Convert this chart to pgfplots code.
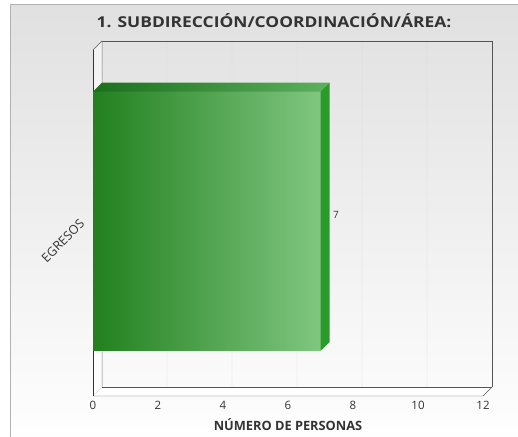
\documentclass[border=0pt]{standalone}
\usepackage{fontspec}
\setmainfont{Open Sans}
\usepackage{pgfplots}
\pgfplotsset{compat=1.18}

\definecolor{txt}{HTML}{333333}
\definecolor{edge}{HTML}{555555}
\definecolor{gridc}{HTML}{D6D6D6}
\definecolor{barL}{HTML}{22801F}
\definecolor{barR}{HTML}{80C680}
\definecolor{topL}{HTML}{1C6F1C}
\definecolor{topR}{HTML}{5DB05D}
\definecolor{sideG}{HTML}{2A9A2A}

\begin{document}
\begin{tikzpicture}
\useasboundingbox (0pt,0pt) rectangle (518pt,-436pt);
% panel background
\shade[top color=black!12, bottom color=white] (10pt,-5pt) rectangle (540pt,-450pt);
\draw[black!30, line width=1pt] (10pt,-450pt) -- (10pt,-5pt) -- (540pt,-5pt);
\node[font=\bfseries\fontsize{15}{18}\selectfont, text=txt, xscale=1.16] at (274pt,-21pt)
  {1. SUBDIRECCIÓN/COORDINACIÓN/ÁREA:};

\begin{axis}[
    at={(93pt,-396pt)}, anchor=south west,
    scale only axis, width=390pt, height=346pt,
    xmin=0, xmax=12, ymin=0, ymax=1,
    clip=false,
    axis line style={draw=none},
    tick style={draw=none},
    xtick={0,2,...,12},
    ytick={0.505}, yticklabels={EGRESOS},
    yticklabel style={xshift=-8.5pt, yshift=2pt, rotate=45, anchor=east,
      font=\fontsize{12.5}{14}\selectfont, text=txt},
    xticklabel style={font=\fontsize{11.5}{13}\selectfont, text=txt, yshift=-2pt},
    /pgf/number format/assume math mode=true,
    xlabel={\textbf{NÚMERO DE PERSONAS}},
    xlabel style={font=\fontsize{12.8}{15}\selectfont, text=txt, yshift=-2pt},
  ]
  % back wall grid (depth offset 9pt)
  \draw[gridc] (2,0) -- (2.277,0.026) -- (2.277,1.026);
  \draw[gridc] (4,0) -- (4.277,0.026) -- (4.277,1.026);
  \draw[gridc] (6,0) -- (6.277,0.026) -- (6.277,1.026);
  \draw[gridc] (8,0) -- (8.277,0.026) -- (8.277,1.026);
  \draw[gridc] (10,0) -- (10.277,0.026) -- (10.277,1.026);
  \draw[edge] (0.277,1.026) -- (12.277,1.026) -- (12.277,0.026);
  % left wall
  \fill[top color=black!5, bottom color=white] (0,0) -- (0,1) -- (0.277,1.026) -- (0.277,0.026) -- cycle;
  \draw[black!60] (0.277,0.026) -- (0.277,1.026) -- (0,1);
  % floor
  \fill[white] (0,0) -- (12,0) -- (12.277,0.026) -- (0.277,0.026) -- cycle;
  \draw[edge] (0.277,0.026) -- (12.277,0.026);
  \draw[edge] (0,0) -- (12,0) -- (12.277,0.026);
  \draw[black!80] (0,0) -- (0,1);

  % bar
  \addplot[xbar, bar width=259pt, draw=none, left color=barL, right color=barR,
    nodes near coords,
    nodes near coords style={anchor=west, xshift=9pt, yshift=6pt, text=txt,
      font=\fontsize{10}{12}\selectfont}]
    coordinates {(7,0.505)};
  \addplot[draw=none, mark=none, left color=topL, right color=topR]
    coordinates {(0,0.8795) (7,0.8795) (7.277,0.9055) (0.277,0.9055)} -- cycle;
  \addplot[draw=none, mark=none, fill=sideG]
    coordinates {(7,0.1301) (7.277,0.1561) (7.277,0.9055) (7,0.8795)} -- cycle;
\end{axis}
\end{tikzpicture}
\end{document}
